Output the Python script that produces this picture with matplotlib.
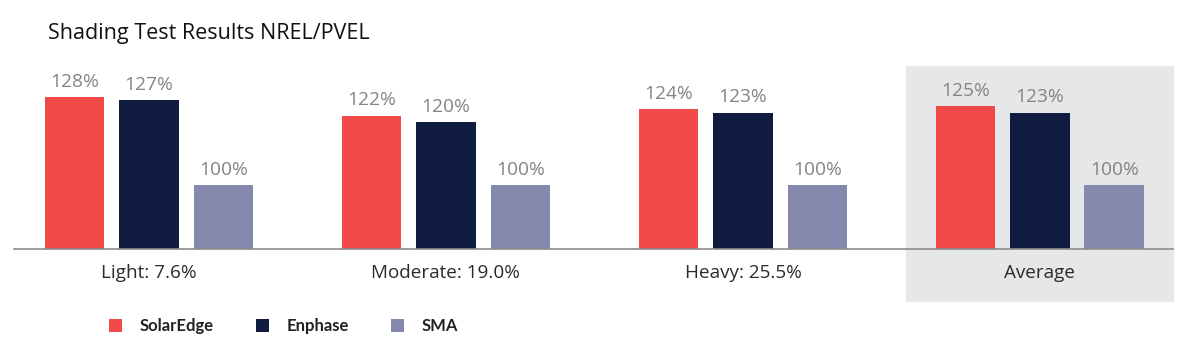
import numpy as np
import matplotlib
matplotlib.use("Agg")
import matplotlib.pyplot as plt
from matplotlib.patches import Patch, Rectangle
from matplotlib.transforms import blended_transform_factory

categories = ["Light: 7.6%", "Moderate: 19.0%", "Heavy: 25.5%", "Average"]
series = ["SolarEdge", "Enphase", "SMA"]
solaredge = [128, 122, 124, 125]
enphase = [127, 120, 123, 123]
sma = [100, 100, 100, 100]
colors = ["#F04A48", "#0F1C40", "#8489AD"]

plt.rcParams['font.family'] = ['Open Sans', 'DejaVu Sans']

fig = plt.figure(figsize=(12, 3.52), dpi=100)
ax = fig.add_axes([14/1200, 103/352, 1159/1200, 189/352])

x = np.arange(len(categories))
w = 0.2
offs = [-0.25, 0, 0.25]
base = 79.6
for vals, off, col in zip([solaredge, enphase, sma], offs, colors):
    ax.bar(x + off, np.array(vals) - base, w, bottom=base, color=col, zorder=3)
    for xi, v in zip(x + off, vals):
        ax.text(xi, v + 2.0, f"{v}%", ha='center', va='bottom', fontsize=13.8, color='#848484')

ax.set_xlim(-0.4545, 3.448)
ax.set_ylim(base, 139.7)

# shaded "Average" panel
tr = blended_transform_factory(ax.transData, ax.transAxes)
ax.add_patch(Rectangle((2.549, -0.275), 3.448 - 2.549, 0.968 + 0.275, transform=tr,
                       color='#E6E7E9', clip_on=False, zorder=0))

for s in ['top', 'left', 'right']:
    ax.spines[s].set_visible(False)
ax.spines['bottom'].set_color('#8c8c8c')
ax.spines['bottom'].set_linewidth(1.2)
ax.spines['bottom'].set_zorder(4)
ax.set_yticks([])
ax.set_xticks(x)
ax.set_xticklabels(categories, fontsize=13.6, color='#2b2b2b')
ax.tick_params(axis='x', length=0, pad=11)
ax.patch.set_visible(False)

fig.text(48/1200, 1 - 34/352, "Shading Test Results NREL/PVEL", fontsize=15.5,
         color='#111111', va='center', ha='left')

handles = [Patch(facecolor=c, edgecolor='none') for c in colors]
leg = fig.legend(handles, series, loc='center left', bbox_to_anchor=(109/1200, 1 - 326/352),
                 ncol=3, frameon=False, handlelength=0.8, handleheight=0.8, handletextpad=1.05,
                 columnspacing=2.5, borderpad=0, borderaxespad=0,
                 prop={'family': 'Lato', 'weight': 'bold', 'size': 12})
for t in leg.get_texts():
    t.set_color('#222222')

fig.savefig("out.png", dpi=100)
